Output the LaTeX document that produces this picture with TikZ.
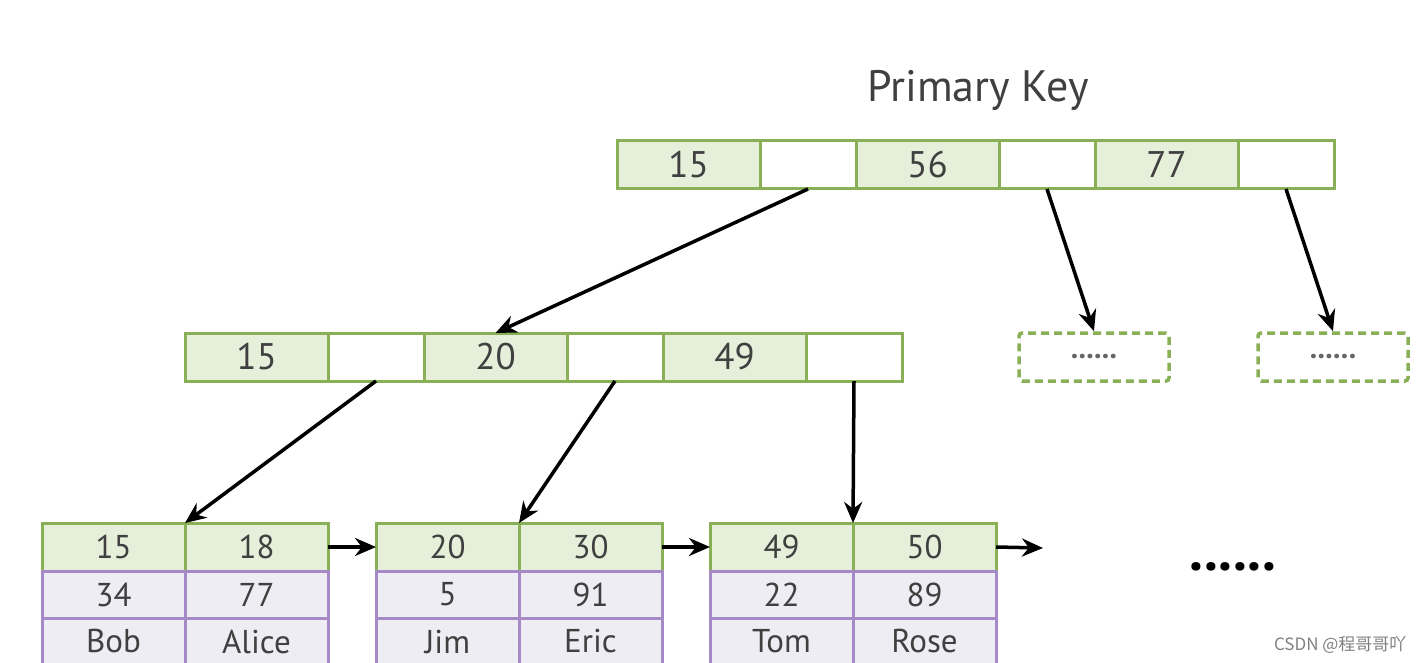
\documentclass[tikz,border=0pt]{standalone}
\usepackage{fontspec}
\setmainfont{PT Sans}
\newfontfamily\cjk{Noto Sans CJK SC}
\usetikzlibrary{arrows.meta,positioning}
\definecolor{keygreen}{RGB}{137,176,86}
\definecolor{keyfill}{RGB}{230,239,218}
\definecolor{rowpurple}{RGB}{166,138,200}
\definecolor{rowfill}{RGB}{239,237,244}
\definecolor{numgray}{RGB}{64,64,64}

\begin{document}
\begin{tikzpicture}[x=1pt, y=-1pt, node distance=0pt, >={Stealth[length=21pt,width=18pt]},
        cell/.style={draw, line width=3pt, outer sep=0pt, inner sep=0pt, minimum height=48pt,
                     text=numgray, font=\fontsize{37}{40}\selectfont},
        keycell/.style={cell, draw=keygreen, fill=keyfill, minimum width=143pt},
        ptrcell/.style={cell, draw=keygreen, fill=white, minimum width=96pt},
        leafkey/.style={keycell, font=\fontsize{33}{36}\selectfont},
        leafrow/.style={cell, draw=rowpurple, fill=rowfill, minimum width=143pt, minimum height=47pt,
                        font=\fontsize{33}{36}\selectfont},
        morebox/.style={draw=keygreen, line width=3.5pt, dash pattern=on 8pt off 5pt, rounded corners=3pt,
                        minimum width=150pt, minimum height=48pt, text=black!60,
                        font=\fontsize{30}{30}\selectfont\bfseries},
        link/.style={->, line width=3.5pt}]
        \useasboundingbox (0,0) rectangle (1424,663);

        % title
        \node[font=\fontsize{44}{48}\selectfont, text=numgray] (title) at (978,90) {Primary Key};

        % root node
        \node[keycell] (r1) at (688.5,165) {15};
        \node[ptrcell, right=of r1] (r2) {};
        \node[keycell, right=of r2] (r3) {56};
        \node[ptrcell, right=of r3] (r4) {};
        \node[keycell, right=of r4] (r5) {77};
        \node[ptrcell, right=of r5] (r6) {};

        % second level
        \node[keycell] (m1) at (256.5,357) {15};
        \node[ptrcell, right=of m1] (m2) {};
        \node[keycell, right=of m2] (m3) {20};
        \node[ptrcell, right=of m3] (m4) {};
        \node[keycell, right=of m4] (m5) {49};
        \node[ptrcell, right=of m5] (m6) {};

        \node[morebox] (d1) at (1094,357) {......};
        \node[morebox] (d2) at (1333,357) {......};

        % leaves
        \foreach \n/\x/\ka/\kb/\va/\vb/\na/\nb in {a/113.5/15/18/34/77/Bob/Alice,
                b/447.5/20/30/5/91/Jim/Eric, c/781.5/49/50/22/89/Tom/Rose} {
            \node[leafkey] (\n1) at (\x,547) {\ka};
            \node[leafkey, right=of \n1] (\n2) {\kb};
            \node[leafrow, below=of \n1] (\n3) {\va};
            \node[leafrow, below=of \n2] (\n4) {\vb};
            \node[leafrow, below=of \n3] (\n5) {\na};
            \node[leafrow, below=of \n4] (\n6) {\nb};
        }
        \node[font=\fontsize{56}{56}\selectfont\bfseries] (more) at (1233,567) {......};
        \coordinate (tail) at (1043,548);

        % pointers
        \draw[link] (r2.south) -- (m3.north);
        \draw[link] (r4.south) -- (d1.north);
        \draw[link] (r6.south) -- (d2.north);
        \draw[link] (m2.south) -- (a1.north east);
        \draw[link] (m4.south) -- (b1.north east);
        \draw[link] (m6.south) -- (c1.north east);
        \draw[link] (a2.east) -- (b1.west);
        \draw[link] (b2.east) -- (c1.west);
        \draw[link] (c2.east) -- (tail);

        \node[anchor=east, text=gray, font=\cjk\fontsize{17}{20}\selectfont] (mark) at (1410,645) {CSDN @程哥哥吖};
    \end{tikzpicture}
\end{document}
